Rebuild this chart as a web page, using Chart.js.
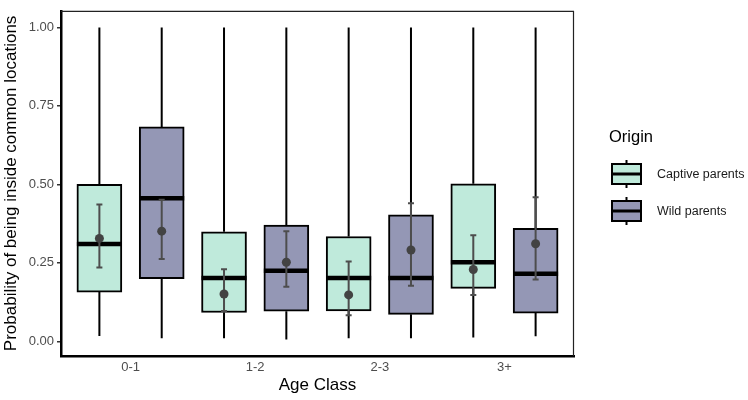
<!DOCTYPE html>
<html>
<head>
<meta charset="utf-8">
<script src="https://cdn.jsdelivr.net/npm/chart.js@4"></script>
<style>
  body { margin: 0; background: #fff; }
  canvas { display: block; }
</style>
</head>
<body>
<canvas id="chart" width="748" height="400"></canvas>
<script>
// Data
const categories = ['0-1', '1-2', '2-3', '3+'];
const groups = ['Captive parents', 'Wild parents'];
const yTicks = [0, 0.25, 0.5, 0.75, 1];

const captiveLow    = [0.017, 0.010, 0.010, 0.012];
const captiveQ1     = [0.157, 0.092, 0.097, 0.169];
const captiveMedian = [0.310, 0.202, 0.202, 0.252];
const captiveQ3     = [0.500, 0.349, 0.334, 0.502];
const captiveHigh   = [1.000, 1.000, 1.000, 1.000];
const captiveMean   = [0.328, 0.151, 0.148, 0.229];
const captiveCiLow  = [0.235, 0.097, 0.083, 0.148];
const captiveCiHigh = [0.436, 0.230, 0.254, 0.338];

const wildLow    = [0.010, 0.006, 0.010, 0.016];
const wildQ1     = [0.200, 0.096, 0.086, 0.090];
const wildMedian = [0.456, 0.225, 0.202, 0.215];
const wildQ3     = [0.683, 0.370, 0.403, 0.360];
const wildHigh   = [1.000, 1.000, 1.000, 1.000];
const wildMean   = [0.351, 0.252, 0.291, 0.311];
const wildCiLow  = [0.262, 0.174, 0.177, 0.197];
const wildCiHigh = [0.451, 0.351, 0.440, 0.459];

const colors = ['#bfeadb', '#9497b5'];
const dodge = [-0.25, 0.25];
const FONT = '"Liberation Sans", Arial, sans-serif';

const stats = [
    { low: captiveLow, q1: captiveQ1, med: captiveMedian, q3: captiveQ3, high: captiveHigh, mean: captiveMean, ciLo: captiveCiLow, ciHi: captiveCiHigh },
    { low: wildLow, q1: wildQ1, med: wildMedian, q3: wildQ3, high: wildHigh, mean: wildMean, ciLo: wildCiLow, ciHi: wildCiHigh }
];

const xPos = (g, i) => i + 1 + dodge[g];

// floating bars = boxes (q1..q3)
const boxSets = stats.map((s, g) => ({
    type: 'bar', label: groups[g], order: 3,
    data: categories.map((c, i) => ({ x: xPos(g, i), y: [s.q1[i], s.q3[i]] })),
    backgroundColor: colors[g], borderColor: '#000', borderWidth: 2, borderSkipped: false,
    barThickness: 45, grouped: false
}));

// mean points
const meanSets = stats.map((s, g) => ({
    type: 'scatter', label: groups[g] + ' mean', order: 1,
    data: categories.map((c, i) => ({ x: xPos(g, i), y: s.mean[i] })),
    pointRadius: 4.5, pointBackgroundColor: '#434343', pointBorderWidth: 0
}));

const boxPlugin = {
    id: 'boxParts',
    beforeDatasetsDraw(chart) {
        // whiskers, behind the boxes
        const { ctx, scales: { x, y } } = chart;
        ctx.save();
        ctx.strokeStyle = '#000';
        ctx.lineWidth = 2;
        stats.forEach((s, g) => categories.forEach((c, i) => {
            const px = x.getPixelForValue(xPos(g, i));
            ctx.beginPath();
            ctx.moveTo(px, y.getPixelForValue(s.q3[i]));
            ctx.lineTo(px, y.getPixelForValue(s.high[i]));
            ctx.moveTo(px, y.getPixelForValue(s.q1[i]));
            ctx.lineTo(px, y.getPixelForValue(s.low[i]));
            ctx.stroke();
        }));
        ctx.restore();
    },
    afterDatasetDraw(chart, args) {
        const g = args.index;
        if (g > 1) return;
        const { ctx, scales: { x, y } } = chart;
        const s = stats[g];
        const bars = chart.getDatasetMeta(g).data;
        ctx.save();
        categories.forEach((c, i) => {
            const px = x.getPixelForValue(xPos(g, i));
            const half = bars[i].width / 2;
            // median
            ctx.strokeStyle = '#000';
            ctx.lineWidth = 4.5;
            ctx.beginPath();
            ctx.moveTo(px - half, y.getPixelForValue(s.med[i]));
            ctx.lineTo(px + half, y.getPixelForValue(s.med[i]));
            ctx.stroke();
            // error bar round the mean
            const top = y.getPixelForValue(s.ciHi[i]), bot = y.getPixelForValue(s.ciLo[i]);
            ctx.strokeStyle = '#4d4d4d';
            ctx.lineWidth = 2;
            ctx.beginPath();
            ctx.moveTo(px, top); ctx.lineTo(px, bot);
            ctx.moveTo(px - 3, top); ctx.lineTo(px + 3, top);
            ctx.moveTo(px - 3, bot); ctx.lineTo(px + 3, bot);
            ctx.stroke();
        });
        ctx.restore();
    },
    afterDraw(chart) {
        const { ctx, chartArea: a } = chart;
        ctx.save();
        // thin panel border on top/right
        ctx.strokeStyle = '#222';
        ctx.lineWidth = 1.2;
        ctx.beginPath();
        ctx.moveTo(a.left, a.top + 0.5);
        ctx.lineTo(a.right - 0.5, a.top + 0.5);
        ctx.lineTo(a.right - 0.5, a.bottom);
        ctx.stroke();

        // legend
        ctx.fillStyle = '#000';
        ctx.font = '16.5px ' + FONT;
        ctx.textBaseline = 'middle';
        ctx.textAlign = 'left';
        ctx.fillText('Origin', 609, 137);
        groups.forEach((name, g) => {
            const cy = 174 + g * 37;
            const l = 612, w = 29;
            ctx.strokeStyle = '#000';
            ctx.lineWidth = 2;
            ctx.beginPath();
            ctx.moveTo(l + w / 2, cy - 14); ctx.lineTo(l + w / 2, cy + 14);
            ctx.stroke();
            ctx.fillStyle = colors[g];
            ctx.fillRect(l, cy - 10, w, 20);
            ctx.strokeRect(l, cy - 10, w, 20);
            ctx.lineWidth = 3;
            ctx.beginPath();
            ctx.moveTo(l, cy); ctx.lineTo(l + w, cy);
            ctx.stroke();
            ctx.fillStyle = '#1a1a1a';
            ctx.font = '12.5px ' + FONT;
            ctx.fillText(name, 657, cy + 1);
        });
        ctx.restore();
    }
};

new Chart(document.getElementById('chart'), {
    data: { datasets: [...boxSets, ...meanSets] },
    options: {
        responsive: false, animation: false,
        layout: { padding: { top: 2, right: 174, left: 0, bottom: 0 } },
        plugins: { legend: { display: false }, tooltip: { enabled: false } },
        scales: {
            x: {
                type: 'linear', min: 0.442, max: 4.558, offset: false,
                afterFit: s => { s.height = 44; },
                afterBuildTicks: s => { s.ticks = categories.map((c, i) => ({ value: i + 1 })); },
                ticks: { callback: v => categories[v - 1], color: '#4d4d4d', font: { family: FONT, size: 13 }, padding: 4, autoSkip: false, maxRotation: 0 },
                grid: { display: false, drawTicks: false },
                border: { color: '#000', width: 2.5 },
                title: { display: true, text: 'Age Class', color: '#000', font: { family: FONT, size: 17 }, padding: { top: 0, bottom: 4 } }
            },
            y: {
                type: 'linear', min: -0.0466, max: 1.0528,
                afterFit: s => { s.width = 61; },
                afterBuildTicks: s => { s.ticks = yTicks.map(v => ({ value: v })); },
                ticks: { callback: v => v.toFixed(2), color: '#4d4d4d', font: { family: FONT, size: 13 }, padding: 3 },
                grid: { drawOnChartArea: false, color: '#333', lineWidth: 1.5, tickLength: 4 },
                border: { color: '#000', width: 2.5 },
                title: { display: true, text: 'Probability of being inside common locations', color: '#000', font: { family: FONT, size: 17 }, padding: { top: 1, bottom: 0 } }
            }
        }
    },
    plugins: [boxPlugin]
});
</script>
</body>
</html>
